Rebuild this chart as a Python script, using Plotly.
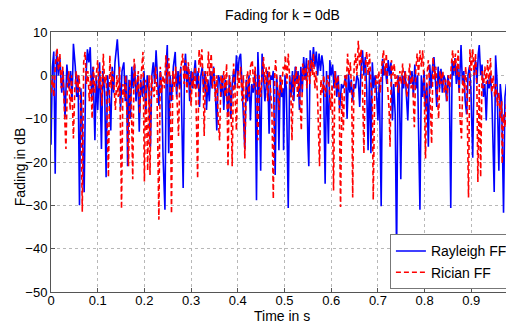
import plotly.graph_objects as go

# ---- Rayleigh fading (blue, solid) : time [s], fading [dB]
t_rayleigh = [
0.000,0.003,0.006,0.009,0.012,0.016,0.019,0.023,0.026,0.030,0.034,0.038,0.042,0.045,0.048,0.052,0.055,0.058,0.061,0.064,
0.067,0.071,0.074,0.078,0.081,0.084,0.087,0.090,0.094,0.097,0.100,0.104,0.108,0.111,0.115,0.118,0.121,0.125,
0.128,0.131,0.134,0.137,0.142,0.146,0.149,0.152,0.156,0.159,0.162,0.164,0.167,0.170,0.173,0.176,0.179,0.182,0.186,0.189,
0.192,0.196,0.199,0.203,0.206,0.210,0.213,0.216,0.219,0.222,0.225,0.228,0.231,0.234,0.237,0.240,0.244,0.247,0.249,
0.252,0.255,0.258,0.262,0.266,0.269,0.272,0.275,0.278,0.283,0.286,0.288,0.291,0.294,0.297,0.300,0.303,0.306,0.309,0.312,
0.315,0.318,0.321,0.324,0.327,0.330,0.333,0.336,0.339,0.342,0.345,0.348,0.352,0.355,0.358,0.361,0.364,0.367,0.370,0.373,
0.376,0.379,0.382,0.385,0.388,0.391,0.394,0.397,0.400,0.403,0.406,0.409,0.412,0.415,0.418,0.421,0.424,0.427,0.430,0.433,
0.437,0.440,0.443,0.446,0.449,0.452,0.455,0.458,0.461,0.464,0.467,0.470,0.473,0.476,0.480,0.483,0.486,0.488,0.491,0.494,0.497,
0.498,0.501,0.504,0.508,0.511,0.514,0.517,0.520,0.523,0.526,0.529,0.532,0.535,0.538,0.541,0.544,0.547,0.550,0.552,0.555,
0.558,0.562,0.565,0.568,0.571,0.574,0.577,0.580,0.583,0.587,0.590,0.594,0.597,0.600,0.603,0.606,0.609,0.612,0.615,0.618,0.622,
0.625,0.628,0.631,0.634,0.637,0.640,0.643,0.646,0.649,0.652,0.655,0.658,0.661,0.664,0.667,0.670,0.673,0.676,0.679,0.682,
0.685,0.688,0.691,0.694,0.697,0.700,0.703,0.707,0.710,0.713,0.716,0.719,0.722,0.725,0.728,0.731,0.734,0.737,0.740,0.743,0.746,
0.749,0.752,0.755,0.758,0.761,0.764,0.767,0.770,0.773,0.776,0.779,0.782,0.785,0.790,0.793,0.796,0.799,0.802,0.805,0.808,
0.811,0.814,0.817,0.820,0.823,0.826,0.829,0.832,0.835,0.838,0.841,0.844,0.847,0.850,0.853,0.856,0.859,0.862,0.865,0.868,0.871,
0.874,0.878,0.881,0.884,0.887,0.890,0.893,0.896,0.899,0.903,0.906,0.909,0.912,0.915,0.917,0.920,0.923,0.926,0.929,0.932,
0.935,0.938,0.941,0.944,0.949,0.952,0.955,0.959,0.962,0.965,0.969,0.972,0.975,0.978,0.981,0.984,0.987,0.990]
db_rayleigh = [
-16,2,5.5,-22.7,5.8,0,4,-4,1,-9.7,2.5,-3,1,-6,7.3,2,-5,0,-30,-3,
-12,-27,-2,6,3,6.5,-5,2,-15,0,-8,3,-17,1,-4,-23.5,0,-5,
-12.7,2,-4,3,8.3,1,-8,1,3,-6,0,-21,-1,-10,2,-3,2.5,-6,0,-13,
-1,-5,1,-9,0,-4,-16.5,0,3,-2,5.8,0,-7,1,-3,-19,-31,3,7,
-18,0,-6,2,5.4,-5,1,-3,2,-26,2,5,-2,2,-6,1,-3,1,3.5,-3,
1,-7.3,0,2,-4,1,-8,-1,-6,1,-3,2,-4,-12.7,0,-0.8,-5,0,-8,-1,
-4,-9.6,0,-10,-2,1,-3,4.6,0,4,5,-2,-8,-17,-1,-6,0,-10.4,-2,-4,
1,-28.8,5.4,-4,-22,5,0,-6,-2,1,-13.5,0,-1,1,-23,0,-4,-17.3,0,-5,-3,
-17.3,0,-3,-30.6,0,-5,1,-6,2,-2,1,-8,2,-4,4.2,-1,4,-15,-21,5.8,
1,6.5,2,5.5,0,5,1,4.6,2,-25,1,-15.8,3.5,0,2.5,-3,1,-5,0,-8,-2,
-3,-2,0,-10,0.4,-4,-1,-6,-2,-3,0,-1,-7.3,2,5.8,0,4.2,-3,-17.3,1,
-18,3,-3,0,-4,-10.4,-1,-30.2,3.8,0,2,-2,3.5,0,3,-10.4,-2,-9,-41.8,0,-3,
-24,0,-3,1,-5,-10.4,0,-2,1,-5,2.5,-3,0,-31,0,-5,1,-8,-2,-16.5,
2.5,-3,2,4.2,-1,-7.3,2,-3,1.5,-4,0,-1,-6,0,-3,-30.6,3.5,0,4,-2,2,
-4,7,-2,1,-6,-9,0,2,-3,-19,1,3.5,-2,5,7,0,2.5,-5,-2,-10.4,
-1,-3,0,-5,-26.9,4.6,-1,-22,-2,-6,-31.7,-5,-2,-4,1,2,4.2,3]

# ---- Rician fading (red, dashed) : time [s], fading [dB]
t_rician = [
0.000,0.003,0.006,0.009,0.013,0.016,0.019,0.022,0.025,0.028,0.032,0.035,0.038,0.041,0.044,0.048,0.051,0.054,0.057,0.060,
0.064,0.067,0.070,0.073,0.076,0.079,0.082,0.085,0.088,0.091,0.094,0.097,0.100,0.103,0.106,0.109,0.112,0.115,0.118,0.123,
0.126,0.129,0.132,0.135,0.138,0.141,0.144,0.147,0.151,0.154,0.157,0.160,0.163,0.166,0.169,0.172,0.175,0.178,0.181,0.184,
0.187,0.190,0.193,0.197,0.200,0.203,0.207,0.210,0.212,0.215,0.218,0.221,0.224,0.227,0.231,0.234,0.237,0.240,0.243,0.246,0.249,
0.252,0.255,0.258,0.261,0.264,0.267,0.270,0.273,0.276,0.279,0.282,0.285,0.288,0.291,0.294,0.297,0.300,0.303,0.306,0.309,
0.314,0.317,0.320,0.323,0.326,0.328,0.331,0.334,0.337,0.340,0.343,0.346,0.349,0.352,0.355,0.358,0.361,0.364,0.367,0.370,0.373,
0.376,0.379,0.382,0.385,0.388,0.391,0.394,0.397,0.400,0.403,0.406,0.409,0.412,0.415,0.418,0.421,0.424,0.427,0.431,0.434,
0.437,0.440,0.443,0.446,0.449,0.452,0.455,0.458,0.461,0.464,0.467,0.470,0.473,0.476,0.479,0.481,0.484,0.488,0.491,0.494,0.497,
0.500,0.502,0.505,0.508,0.511,0.514,0.516,0.519,0.522,0.525,0.528,0.531,0.536,0.539,0.542,0.545,0.548,0.551,0.554,0.557,
0.560,0.562,0.565,0.568,0.571,0.575,0.578,0.581,0.584,0.587,0.590,0.593,0.596,0.599,0.602,0.605,0.608,0.611,0.614,0.617,0.620,0.623,
0.626,0.629,0.632,0.635,0.638,0.641,0.644,0.646,0.649,0.652,0.655,0.658,0.661,0.664,0.667,0.670,0.673,0.676,0.679,0.682,
0.685,0.688,0.690,0.693,0.696,0.699,0.702,0.705,0.708,0.712,0.715,0.718,0.721,0.724,0.726,0.729,0.732,0.735,0.738,0.741,0.744,0.747,
0.750,0.753,0.756,0.759,0.762,0.765,0.768,0.771,0.774,0.778,0.781,0.784,0.787,0.790,0.793,0.796,0.799,0.802,0.805,0.808,
0.811,0.815,0.818,0.821,0.824,0.827,0.830,0.833,0.836,0.839,0.842,0.845,0.848,0.851,0.854,0.857,0.860,0.863,0.866,0.869,0.872,
0.876,0.879,0.882,0.885,0.888,0.891,0.894,0.897,0.900,0.903,0.906,0.909,0.912,0.914,0.917,0.920,0.923,0.926,0.929,0.932,
0.935,0.938,0.941,0.944,0.947,0.950,0.953,0.956,0.959,0.962,0.965,0.966,0.969,0.972,0.975,0.978,0.981,0.984,0.987,0.990]
db_rician = [
-4,0,-5,2,6.2,1,5,-3,2,-6,-17,-2,1,-8,0,-14.6,-3,1,-4,0,
-8,-31.5,3,5.4,-2,1,-6,0,-10,2,-4,0,3.5,-3,1,-7,5,-2,0,-23.5,
4.6,-3,1,-2.7,-8,0,-5,2,-30.8,-2,-5,0,-9,-21,-1,-6,-24,3.8,-1,-4,
1,-8.8,0,5.4,-24.5,-1,-22,0,-23,0,-3,-5,2,-4,-33.3,2,-4,0,-3,4.6,-2,
4,-2,-31.9,1,-3,2,-6,-14,0,3,5,-2,3.5,-4,3,-1,-7,1,-3,2,
-23.8,6,2,6,-2,-14,1,-4,5.5,0,5,-3,2,-6,0,-10,-15,0,-3,1,-5,
2.7,-21,0,-3,-21,2.7,-4,-12.7,1,-3,2,-6,0,-19.2,-2,1,-5,2,3.5,-3,
2,-4,-15,0,-5,1,4.2,-2,2,-6,2,-3,-8,-28.5,0,3.5,-2,-8,0,-4,2,
1,4.6,-2,5,0,-6,-15,0,-3,2,-5,0,-12.7,2.7,-1,2,-3,3.5,-2,3.5,
0,5,-3,1,-6,-21,-1,-4,0,-5,-2,0,-3,-8,-2,-26.6,1,-3,0,-5,-30.4,-4,
-12.7,0,-3,5,0,3,-5,-28.2,2,5,0,8,2,6,-3,-18,2,5.5,0,5,
-2,-6,-28.7,-5,0,-2,1,-4,2,5.8,0,5,-3,-8,-16.5,3.5,0,2.7,-3,0,-4,1,
-2,2.7,-2,1,-5,0,2.7,-3,0,-12,1,5,0,5.8,2,5.8,-3,-19.2,0,3.5,
-3,-15.8,4.2,-1,2,-4,-10,1,-2,1,-4,-1,-6,0,-3,2,5.8,1,5,0,5.8,
-10.4,-14.6,0,-4,2,-6,-28.2,6,1,6,0,5,-3,-24.6,-2,-23.5,1,-3,2,-2,
3.5,-2,4,-4,0,-5,-2,-7,-4,-10,-6,-20.4,-9,-12,-7,-2,2.7,-1,3,2]

x_ticks = [0, 0.1, 0.2, 0.3, 0.4, 0.5, 0.6, 0.7, 0.8, 0.9]
x_tick_labels = ["0", "0.1", "0.2", "0.3", "0.4", "0.5", "0.6", "0.7", "0.8", "0.9"]
y_ticks = [-50, -40, -30, -20, -10, 0, 10]

FONT = "Liberation Sans, Arial, Helvetica, sans-serif"

fig = go.Figure()
fig.add_trace(go.Scatter(x=t_rayleigh, y=db_rayleigh, mode="lines", name="Rayleigh FF",
                         line=dict(color="#0000ff", width=1.6)))
fig.add_trace(go.Scatter(x=t_rician, y=db_rician, mode="lines", name="Rician FF",
                         line=dict(color="#ff0000", width=1.6, dash="5px,3px")))

axis_common = dict(showline=True, linecolor="#555555", linewidth=1, mirror="ticks",
                   ticks="inside", ticklen=4, tickcolor="#555555",
                   showgrid=True, gridcolor="#b8b8b8", griddash="dot", gridwidth=1,
                   zeroline=False, automargin=False,
                   tickfont=dict(family=FONT, size=13, color="#000000"))

fig.update_xaxes(range=[0, 0.9914], tickvals=x_ticks, ticktext=x_tick_labels,
                 ticklabelstandoff=-4, **axis_common)
fig.update_yaxes(range=[-50, 10], tickvals=y_ticks, **axis_common)

# The page has an 8px body margin, so the figure is sized to fill the rest of the window.
fig.update_layout(
    width=506, height=316,
    margin=dict(l=43, r=0, t=24, b=32, autoexpand=False),
    paper_bgcolor="white", plot_bgcolor="white",
    title=dict(text="Fading for k = 0dB", xref="paper", x=0.5, xanchor="center",
               yref="container", y=0.978, yanchor="middle",
               font=dict(family=FONT, size=14, color="#000000")),
    legend=dict(x=0.732, y=0.01, xanchor="left", yanchor="bottom",
                bgcolor="white", bordercolor="#777777", borderwidth=1,
                font=dict(family=FONT, size=14, color="#000000"),
                tracegroupgap=0, itemwidth=30),
    showlegend=True,
    annotations=[
        dict(text="Time in s", xref="paper", yref="paper", x=0.499, y=0, yshift=-24,
             xanchor="center", yanchor="middle", showarrow=False,
             font=dict(family=FONT, size=14, color="#000000")),
        dict(text="Fading in dB", xref="paper", yref="paper", x=0, xshift=-31, y=0.48,
             xanchor="center", yanchor="middle", textangle=-90, showarrow=False,
             font=dict(family=FONT, size=14, color="#000000")),
    ],
)

fig.write_html("out.html")
